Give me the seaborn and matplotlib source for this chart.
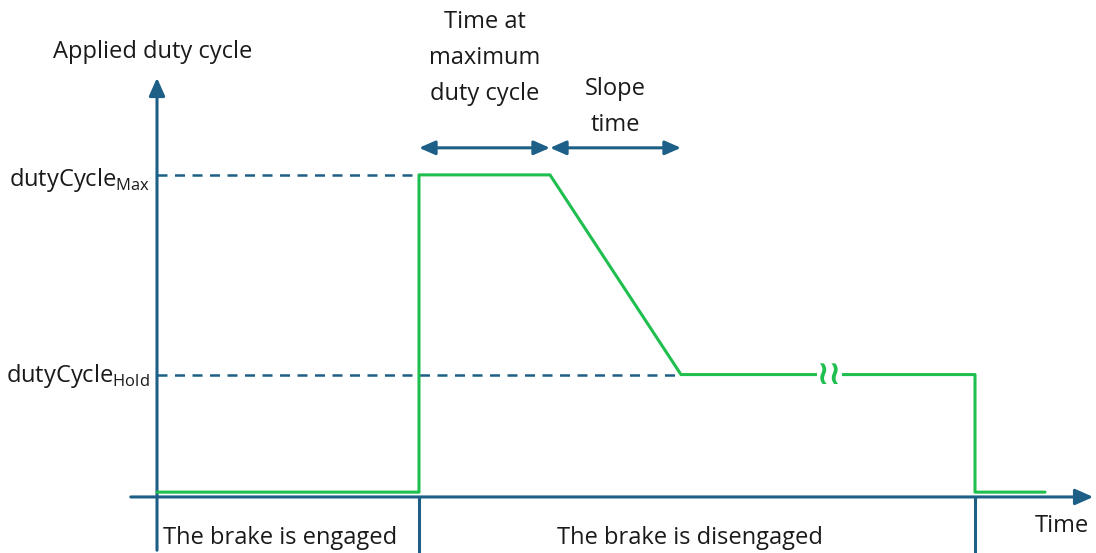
import matplotlib
matplotlib.use("Agg")
import matplotlib.pyplot as plt
import seaborn as sns
import pandas as pd

sns.set_theme(style="white")
FONT = "Open Sans"
plt.rcParams['font.family'] = [FONT, 'DejaVu Sans']
plt.rcParams['mathtext.fontset'] = 'custom'
plt.rcParams['mathtext.rm'] = FONT

# ---- data (time units, duty-cycle units) ----
time_pts = [0, 26.2, 26.2, 39.3, 52.4, 81.8, 81.8, 88.8]
duty_pts = [1.5, 1.5, 100, 100, 38, 38, 1.5, 1.5]
duty_max = 100
duty_hold = 38
t_engage_end = 26.2     # brake disengaged starts
t_max_end = 39.3        # end of max duty time
t_slope_end = 52.4      # end of slope
t_release = 81.8        # brake engaged again
t_break = 67.2          # position of the axis-break mark
level_labels = ["dutyCycle$_{\\mathrm{Max}}$", "dutyCycle$_{\\mathrm{Hold}}$"]

GREEN = "#1fbf4f"
BLUE = "#1d5f86"
TXT = "#1a1a1a"

fig = plt.figure(figsize=(10.96, 5.53), dpi=100)
ax = fig.add_axes([0, 0, 1, 1])
ax.set_xlim(-15.7, 93.9)
ax.set_ylim(-17.4, 154.3)
ax.axis("off")

df = pd.DataFrame({"t": time_pts, "d": duty_pts})
sns.lineplot(data=df, x="t", y="d", sort=False, estimator=None, color=GREEN, lw=2.2, ax=ax, zorder=3)

# axes
ax.annotate("", xy=(0, 131), xytext=(0, -17.4),
            arrowprops=dict(arrowstyle="-|>,head_length=0.9,head_width=0.4", color=BLUE, lw=2.2), zorder=2)
ax.annotate("", xy=(93.9, 0), xytext=(-2.9, 0),
            arrowprops=dict(arrowstyle="-|>,head_length=0.9,head_width=0.4", color=BLUE, lw=2.2), zorder=2)

# separators under the axis
for tx in [t_engage_end, t_release]:
    ax.plot([tx, tx], [0, -17.4], color=BLUE, lw=2.2)

# dashed level lines
ax.plot([0, t_engage_end], [duty_max, duty_max], color=BLUE, lw=1.8, ls=(0, (4, 3)), zorder=2)
ax.plot([0, t_slope_end], [duty_hold, duty_hold], color=BLUE, lw=1.8, ls=(0, (4, 3)), zorder=2)

# double-headed interval arrows
yarr = 108.4
for a, b in [(t_engage_end, t_max_end), (t_max_end, t_slope_end)]:
    ax.annotate("", xy=(b, yarr), xytext=(a, yarr),
                arrowprops=dict(arrowstyle="<|-|>,head_length=0.8,head_width=0.35", color=BLUE, lw=2.2,
                                shrinkA=0, shrinkB=0))

# break mark on hold line
ax.text(t_break, duty_hold, "≀≀", color=GREEN, fontsize=24, fontweight="bold", ha="center", va="center",
        family="DejaVu Sans", zorder=5, bbox=dict(boxstyle="square,pad=0.0", fc="white", ec="none"))

fs = 17
ax.text(-10.4, 138.2, "Applied duty cycle", fontsize=fs, color=TXT, ha="left", va="center")
ax.text(-0.7, duty_max - 1.5, level_labels[0], fontsize=fs, color=TXT, ha="right", va="center")
ax.text(-0.7, duty_hold - 0.5, level_labels[1], fontsize=fs, color=TXT, ha="right", va="center")
ax.text((t_engage_end + t_max_end) / 2, 136.3, "Time at\nmaximum\nduty cycle", fontsize=fs, color=TXT,
        ha="center", va="center", linespacing=1.68)
ax.text((t_max_end + t_slope_end) / 2, 121, "Slope\ntime", fontsize=fs, color=TXT,
        ha="center", va="center", linespacing=1.68)
ax.text(0.6, -12.8, "The brake is engaged", fontsize=fs, color=TXT, ha="left", va="center")
ax.text(53.3, -12.8, "The brake is disengaged", fontsize=fs, color=TXT, ha="center", va="center")
ax.text(90.5, -9.0, "Time", fontsize=fs, color=TXT, ha="center", va="center")

fig.savefig("out.png", dpi=100)
